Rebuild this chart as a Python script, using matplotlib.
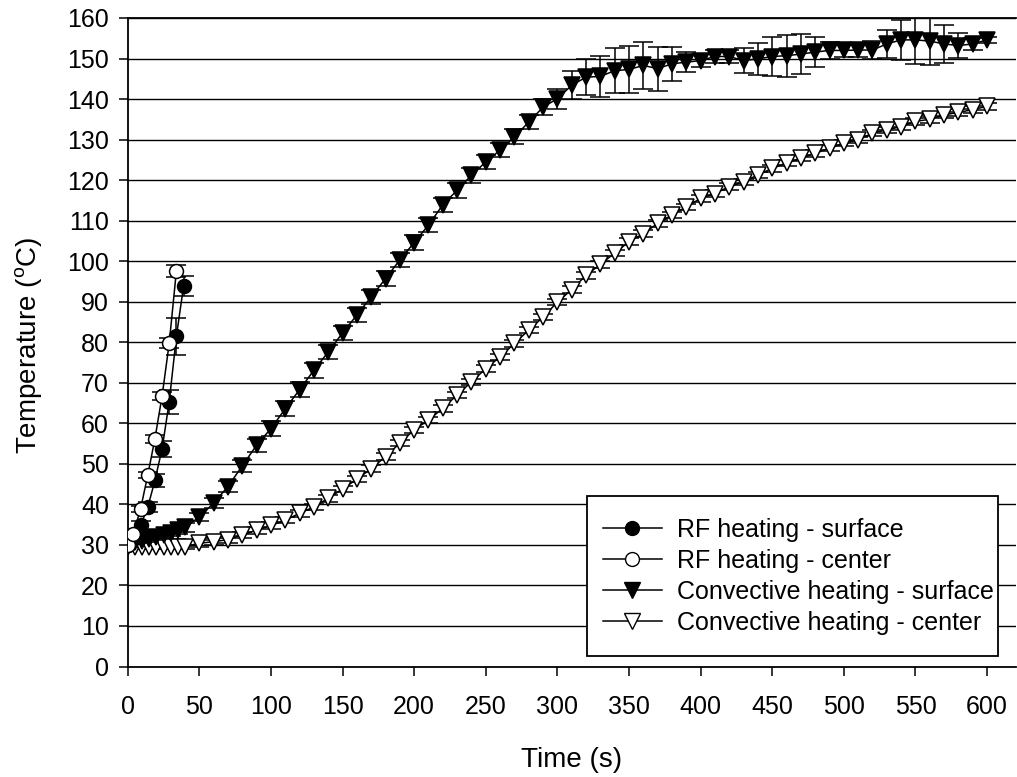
import numpy as np
import matplotlib
matplotlib.use('Agg')
import matplotlib.pyplot as plt
from matplotlib.lines import Line2D
from matplotlib.patches import Rectangle

plt.rcParams['font.family'] = ['Liberation Sans', 'DejaVu Sans']
plt.rcParams['mathtext.default'] = 'regular'

# RF heating (s, degC)
rf_time = [0, 4, 9, 14, 19, 24, 29, 34, 39]
rf_surface = [30.0, 31.5, 34.8, 39.3, 45.9, 53.7, 65.3, 81.5, 93.8]
rf_surface_err = [0.5, 0.8, 1.0, 1.2, 1.5, 2.0, 3.0, 4.6, 2.5]
rf_center_time = [0, 4, 9, 14, 19, 24, 29, 34]
rf_center = [30.0, 32.8, 38.9, 47.2, 56.2, 66.7, 79.8, 97.6]
rf_center_err = [0.5, 0.6, 0.8, 0.8, 1.0, 1.0, 1.2, 1.5]

# convective heating
conv_time = [0, 5, 10, 15, 20, 25, 30, 35, 40,
             50, 60, 70, 80, 90, 100, 110, 120, 130, 140,
             150, 160, 170, 180, 190, 200, 210, 220, 230, 240,
             250, 260, 270, 280, 290, 300, 310, 320, 330, 340,
             350, 360, 370, 380, 390, 400, 410, 420, 430, 440,
             450, 460, 470, 480, 490, 500, 510, 520, 530, 540,
             550, 560, 570, 580, 590, 600]
conv_surface = [30.5, 30.7, 31.0, 31.4, 31.9, 32.4, 33.0, 33.6, 34.3,
                36.9, 40.3, 44.4, 49.5, 54.6, 58.7, 63.6, 68.3, 73.1, 77.6,
                82.3, 86.7, 91.2, 95.7, 100.3, 104.6, 108.9, 113.9, 117.5, 121.2,
                124.5, 127.4, 130.7, 134.3, 138.0, 140.1, 143.4, 145.4, 145.6, 147.0,
                147.3, 148.3, 147.5, 148.7, 149.1, 149.5, 150.5, 150.5, 149.5, 149.9,
                150.5, 150.7, 151.1, 151.6, 152.0, 152.0, 152.1, 152.1, 153.6, 154.6,
                154.6, 154.3, 153.6, 153.2, 153.6, 154.6]
conv_surface_err = [0.5, 0.5, 0.5, 0.6, 0.6, 0.7, 0.8, 0.9, 1.0,
                    1.0, 1.2, 1.3, 1.5, 1.6, 1.8, 1.8, 1.8, 1.8, 1.8,
                    1.8, 1.8, 1.8, 1.8, 1.8, 1.8, 1.8, 1.8, 1.8, 1.8,
                    1.8, 1.8, 1.8, 1.8, 2.0, 2.5, 3.5, 4.5, 5.0, 5.5,
                    5.7, 5.7, 5.4, 4.2, 2.4, 1.6, 1.6, 1.6, 3.1, 4.0,
                    4.8, 5.2, 4.9, 3.7, 2.0, 1.6, 1.6, 2.2, 3.5, 5.0,
                    6.0, 6.0, 4.6, 3.0, 1.5, 0.8]
conv_center = [29.5, 29.5, 29.5, 29.5, 29.5, 29.5, 29.5, 29.5, 29.6,
               30.4, 30.8, 31.3, 32.5, 33.6, 34.8, 36.1, 37.8, 39.4, 41.5,
               43.8, 46.2, 48.8, 51.8, 55.1, 58.4, 60.8, 63.7, 67.0, 70.2,
               73.5, 76.4, 79.7, 83.0, 86.2, 89.9, 93.0, 96.5, 99.2, 102.0,
               104.8, 106.8, 109.3, 111.4, 113.4, 115.5, 116.7, 118.4, 119.6, 121.3,
               122.9, 124.2, 125.4, 126.6, 127.9, 129.1, 129.9, 131.6, 132.4, 133.2,
               134.5, 135.0, 136.1, 136.7, 137.4, 138.2]
conv_center_err = [0.5] * 9 + [0.8] * 56

labels = ['RF heating - surface', 'RF heating - center',
          'Convective heating - surface', 'Convective heating - center']

fig = plt.figure(figsize=(10.17, 7.77), dpi=100)
ax = fig.add_axes([127.7 / 1017, 1 - 666.5 / 777, 888 / 1017, 648.5 / 777])

# horizontal grid
for yv in range(10, 161, 10):
    ax.axhline(yv, color='black', lw=1.0, zorder=0)

eb = dict(color='black', ecolor='black', elinewidth=1.1, capsize=7,
          capthick=1.1, lw=1.1, markeredgecolor='black', markeredgewidth=1.1)

ax.errorbar(conv_time, conv_center, yerr=conv_center_err, fmt='-v', ms=11.5,
            markerfacecolor='white', zorder=2, **eb)
ax.errorbar(conv_time, conv_surface, yerr=conv_surface_err, fmt='-v', ms=11.5,
            markerfacecolor='black', zorder=3, **eb)
ax.errorbar(rf_time, rf_surface, yerr=rf_surface_err, fmt='-o', ms=10,
            markerfacecolor='black', zorder=4, **eb)
ax.errorbar(rf_center_time, rf_center, yerr=rf_center_err, fmt='-o', ms=10,
            markerfacecolor='white', zorder=5, **eb)

ax.set_xlim(0, 620)
ax.set_ylim(0, 160)
ax.set_xticks(range(0, 601, 50))
ax.set_yticks(range(0, 161, 10))
ax.tick_params(direction='out', length=6.5, width=1.1, labelsize=18)
ax.tick_params(axis='x', pad=14)
ax.tick_params(axis='y', pad=7)
for s in ['left', 'bottom', 'top']:
    ax.spines[s].set_linewidth(1.3)
ax.spines['right'].set_visible(False)

ax.set_xlabel('Time (s)', fontsize=20)
ax.set_ylabel('Temperature ($^{o}$C)', fontsize=20)
ax.xaxis.set_label_coords(0.5, -0.124)
ax.yaxis.set_label_coords(-0.094, 0.495)

# legend: frame drawn separately so its box matches the original
box = Rectangle((0.5172, 0.0162), 0.4628, 0.2467, transform=ax.transAxes,
                facecolor='white', edgecolor='black', lw=1.3, zorder=9)
ax.add_patch(box)
handles = [
    Line2D([], [], color='black', lw=1.1, marker='o', ms=10, mfc='black', mec='black'),
    Line2D([], [], color='black', lw=1.1, marker='o', ms=10, mfc='white', mec='black'),
    Line2D([], [], color='black', lw=1.1, marker='v', ms=11.5, mfc='black', mec='black'),
    Line2D([], [], color='black', lw=1.1, marker='v', ms=11.5, mfc='white', mec='black'),
]
leg = ax.legend(handles, labels, loc='upper left', bbox_to_anchor=(0.5352, 0.229),
                fontsize=18, frameon=False, handlelength=2.35, handletextpad=0.6,
                labelspacing=0.28, borderpad=0, borderaxespad=0)
leg.set_zorder(10)

fig.savefig('out.png', dpi=100)
